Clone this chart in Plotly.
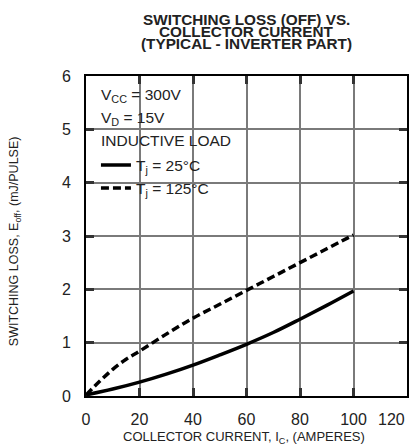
import plotly.graph_objects as go

# Collector current (A)
ic_25 = [0, 10, 20, 30, 40, 50, 60, 70, 80, 90, 100]
eoff_25 = [0.02, 0.13, 0.26, 0.41, 0.58, 0.77, 0.97, 1.19, 1.44, 1.70, 1.97]

ic_125 = [0, 5, 10, 15, 20, 30, 40, 50, 60, 70, 80, 90, 100]
eoff_125 = [0.02, 0.27, 0.50, 0.69, 0.84, 1.16, 1.46, 1.72, 1.98, 2.24, 2.50, 2.76, 3.02]

x_ticks = [0, 20, 40, 60, 80, 100, 120]
x_tick_labels = ["0", "20", "40", "60", "80", "100", "120"]
y_ticks = [0, 1, 2, 3, 4, 5, 6]

title_lines = ["SWITCHING LOSS (OFF) VS.", "COLLECTOR CURRENT", "(TYPICAL - INVERTER PART)"]
condition_lines = ["V<sub>CC</sub> = 300V", "V<sub>D</sub> = 15V", "INDUCTIVE LOAD"]
x_title = "COLLECTOR CURRENT, I<sub>C</sub>, (AMPERES)"
y_title = "SWITCHING LOSS, E<sub>off</sub>, (mJ/PULSE)"

FONT = "Liberation Sans, Arial, sans-serif"
INK = "#222"

fig = go.Figure()
fig.add_trace(go.Scatter(x=ic_25, y=eoff_25, mode="lines", name="T<sub>j</sub> = 25°C",
                         legendgroup="a",
                         line=dict(color="black", width=3.5, shape="spline")))
fig.add_trace(go.Scatter(x=ic_125, y=eoff_125, mode="lines", name="T<sub>j</sub> = 125°C",
                         legendgroup="b",
                         line=dict(color="black", width=3.5, dash="8px,4px", shape="spline")))

axis_common = dict(
    showgrid=True, gridcolor="#7a7a7a", gridwidth=1.5,
    showline=True, linecolor="black", linewidth=2, mirror="allticks",
    ticks="inside", ticklen=8, tickwidth=2.5, tickcolor="#333",
    zeroline=False, automargin=False,
    tickfont=dict(family=FONT, size=16, color=INK),
)

# the last x label is right-aligned to its tick (as in the reference) via an annotation
x_text = x_tick_labels[:-1] + [""]
fig.update_xaxes(range=[0, 120], tickvals=x_ticks, ticktext=x_text, ticklabelstandoff=8,
                 **axis_common)
fig.update_yaxes(range=[0, 6], tickvals=y_ticks, ticklabelstandoff=10, **axis_common)
fig.add_annotation(text=x_tick_labels[-1], x=x_ticks[-1], xref="x", y=-0.072, yref="paper",
                   showarrow=False, xanchor="right", yanchor="middle",
                   font=dict(family=FONT, size=16, color=INK))

# white background behind the condition text / legend (above grid, below traces)
fig.add_shape(type="rect", xref="paper", yref="paper", x0=0.003, x1=0.465, y0=0.60, y1=0.99,
              fillcolor="white", line=dict(width=0), layer="between")

title_y = [1.178, 1.139, 1.100]
for t, yy in zip(title_lines, title_y):
    fig.add_annotation(text="<b>" + t + "</b>", x=0.5, y=yy, xref="paper", yref="paper",
                       showarrow=False, xanchor="center", yanchor="middle",
                       font=dict(family=FONT, size=15.3, color=INK))

cond_y = [0.938, 0.867, 0.798]
for t, yy in zip(condition_lines, cond_y):
    fig.add_annotation(text=t, x=0.040, y=yy, xref="paper", yref="paper",
                       showarrow=False, xanchor="left", yanchor="middle",
                       font=dict(family=FONT, size=15.5, color=INK))

fig.add_annotation(text=x_title, x=0.492, y=-0.131, xref="paper", yref="paper",
                   showarrow=False, xanchor="center", yanchor="middle",
                   font=dict(family=FONT, size=13, color=INK))
fig.add_annotation(text=y_title, x=-0.221, y=0.484, xref="paper", yref="paper",
                   showarrow=False, xanchor="center", yanchor="middle", textangle=-90,
                   font=dict(family=FONT, size=12.5, color=INK))

fig.update_layout(
    width=419, height=446,
    margin=dict(l=86, r=12, t=76, b=50),
    paper_bgcolor="white", plot_bgcolor="white",
    showlegend=True,
    legend=dict(
        x=0.031, y=0.774, xanchor="left", yanchor="top",
        bgcolor="rgba(0,0,0,0)", borderwidth=0,
        font=dict(family=FONT, size=15.5, color=INK),
        itemwidth=30, tracegroupgap=0,
    ),
)

fig.write_html("out.html", config={"displayModeBar": False},
               post_script="document.body.style.margin='0px';")
